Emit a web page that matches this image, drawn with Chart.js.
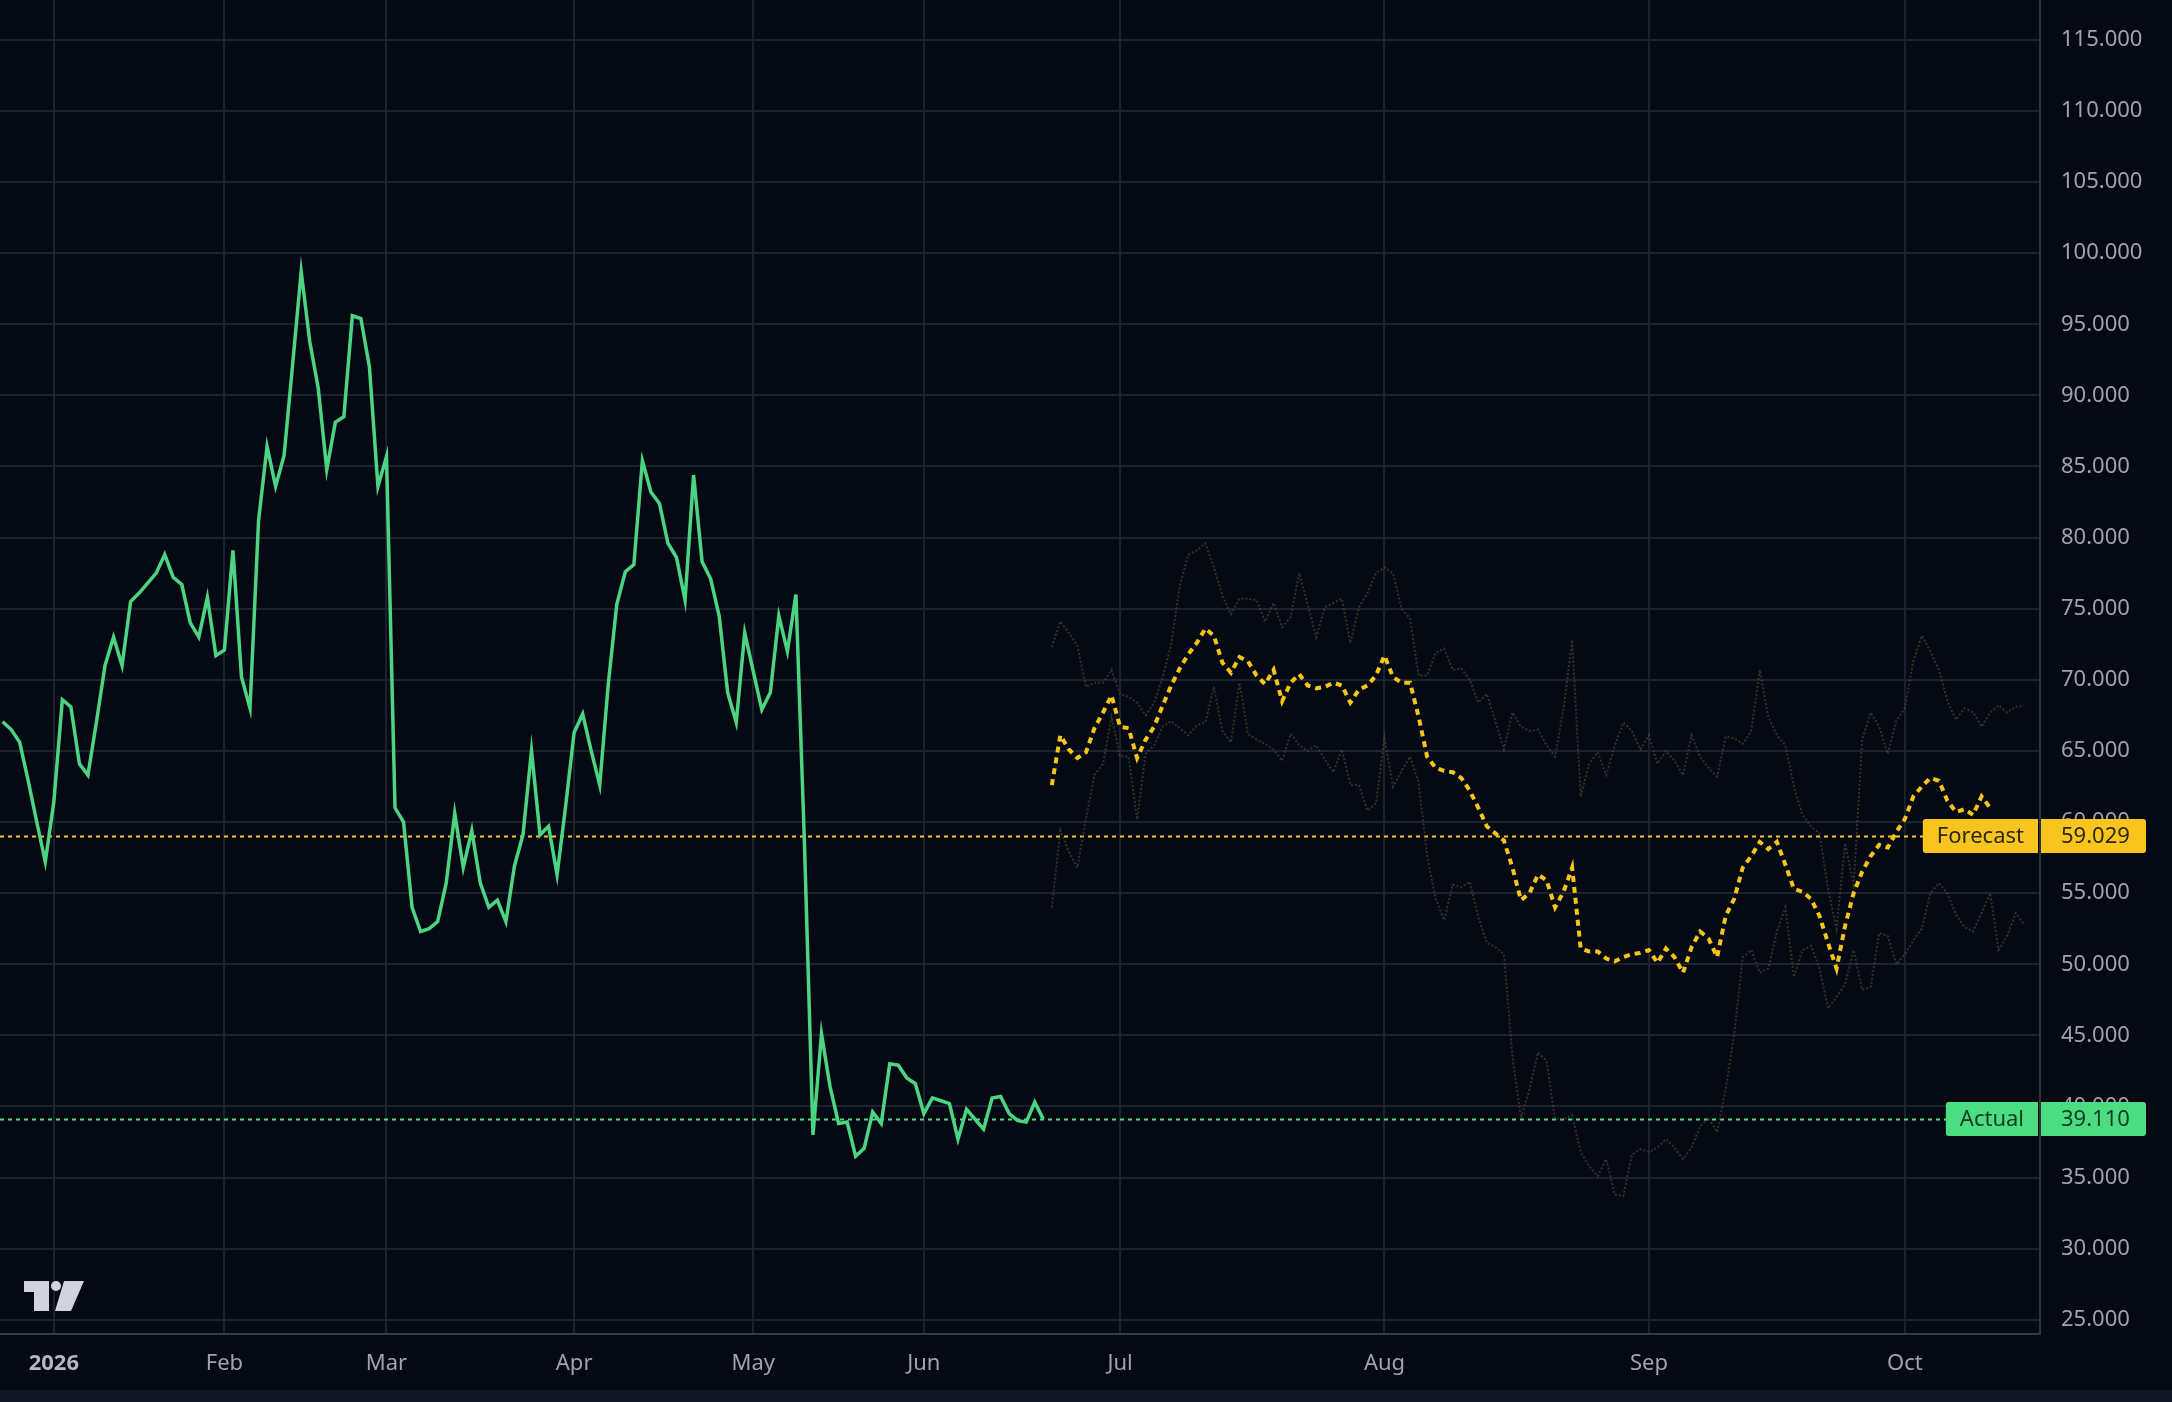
<!DOCTYPE html>
<html lang="en">
<head>
  <meta charset="UTF-8">
  <title>Actual vs Forecast</title>
  <script src="https://cdn.jsdelivr.net/npm/chart.js@4.4.1/dist/chart.umd.min.js"></script>
  <style>
    html, body { margin: 0; padding: 0; background: #050914; overflow: hidden; }
    #wrap { width: 2172px; height: 1402px; position: relative; }
  </style>
</head>
<body>
  <div id="wrap"><canvas id="myChart"></canvas></div>
  <script>
    // x positions are session indexes, Jan 1 2026 = 0
    const actualStart = -6;
    const actualValues = [
      67.05, 66.5, 65.6, 62.9, 60.0, 57.2,
      61.4, 68.6, 68.1, 64.1, 63.3, 67.05, 71.0, 73.0, 71.0, 75.5,
      76.1, 76.8, 77.5, 78.8, 77.2, 76.7, 74.0, 73.0, 75.8, 71.7,
      72.1, 79.1, 70.2, 68.0, 81.2, 86.4, 83.6, 85.8, 92.2, 98.7,
      93.8, 90.5, 84.8, 88.1, 88.5, 95.6, 95.4, 92.0, 83.6, 85.7,
      61.0, 60.0, 54.0, 52.3, 52.5, 53.0, 55.7, 60.6, 56.8, 59.4,
      55.7, 54.0, 54.5, 53.0, 56.9, 59.1, 65.0, 59.1, 59.7, 56.3,
      61.1, 66.3, 67.6, 65.0, 62.6, 69.7, 75.3, 77.6, 78.1, 85.4,
      83.2, 82.4, 79.6, 78.6, 75.6, 84.4, 78.3, 77.1, 74.5, 69.1,
      67.0, 73.3, 70.6, 67.9, 69.1, 74.5, 72.0, 76.0, 58.5, 38.0,
      45.1, 41.4, 38.8, 38.9, 36.5, 37.05, 39.6, 38.8, 43.0, 42.9,
      42.0, 41.6, 39.5, 40.6, 40.4, 40.2, 37.7, 39.8, 39.1, 38.4,
      40.6, 40.7, 39.5, 39.0, 38.9, 40.3, 39.11
    ];

    // forecast runs daily from Jun 23
    const forecastStart = 117;
    const forecastValues = [
      62.6, 66.1, 65.1, 64.5, 64.9, 66.6, 67.7, 68.9, 66.7, 66.6,
      64.5, 65.8, 66.7, 68.2, 69.6, 70.8, 71.8, 72.6, 73.6, 73.1,
      71.2, 70.5, 71.6, 71.3, 70.3, 69.7, 70.7, 68.5, 69.8, 70.4,
      69.6, 69.4, 69.5, 69.8, 69.6, 68.4, 69.3, 69.6, 70.3, 71.7,
      70.2, 69.8, 69.8, 67.4, 64.6, 63.8, 63.6, 63.5, 63.1, 62.2,
      61.0, 59.7, 59.2, 58.7, 56.8, 54.5, 55.0, 56.3, 55.9, 54.0,
      55.1, 56.8, 51.1, 50.9, 50.9, 50.4, 50.2, 50.5, 50.7, 50.8,
      51.0, 50.1, 51.1, 50.5, 49.4, 51.2, 52.3, 51.8, 50.5, 53.4,
      54.6, 56.8, 57.6, 58.6, 58.1, 58.6, 57.0, 55.3, 55.1, 54.6,
      53.4, 51.5, 49.7, 52.7, 55.0, 56.5, 57.6, 58.4, 58.2, 59.3,
      60.2, 61.8, 62.5, 63.1, 62.9, 61.5, 60.7, 60.9, 60.5, 61.8,
      61.0
    ];

    // faint alternative paths behind the forecast
    const upperValues = [
      72.3, 74.1, 73.3, 72.4, 69.5, 69.8, 69.8, 70.7, 69.0, 68.8,
      68.4, 67.5, 68.4, 70.2, 72.5, 76.6, 78.8, 79.1, 79.6, 77.9,
      75.9, 74.6, 75.7, 75.7, 75.6, 74.1, 75.4, 73.7, 74.4, 77.5,
      75.3, 73.0, 75.1, 75.4, 75.7, 72.6, 75.1, 76.1, 77.5, 77.9,
      77.5, 75.0, 74.3, 70.3, 70.3, 71.9, 72.2, 70.7, 70.8, 70.0,
      68.4, 69.0, 67.1, 65.1, 67.7, 66.7, 66.4, 66.5, 65.4, 64.6,
      68.0, 72.8, 61.8, 64.1, 64.9, 63.3, 65.4, 67.0, 66.4, 65.1,
      66.1, 64.1, 65.0, 64.3, 63.3, 66.1, 64.6, 63.8, 63.2, 66.0,
      65.9, 65.5, 66.4, 70.7, 67.4, 66.1, 65.4, 62.5, 60.5, 59.7,
      59.2, 55.3, 52.5, 58.5, 55.6, 65.8, 67.7, 66.7, 64.8, 67.1,
      68.0, 71.3, 73.1, 72.0, 70.7, 68.5, 67.2, 68.0, 67.7, 66.7,
      67.7, 68.2, 67.7, 68.1, 68.2
    ];
    const lowerValues = [
      54.0, 59.4, 57.9, 56.8, 60.2, 63.3, 64.1, 67.4, 64.6, 64.6,
      60.2, 64.8, 65.4, 66.7, 67.1, 66.6, 66.1, 66.8, 67.0, 69.5,
      66.4, 65.6, 69.8, 66.2, 65.8, 65.5, 65.1, 64.3, 66.2, 65.4,
      65.0, 65.4, 64.4, 63.5, 65.1, 62.6, 62.6, 60.8, 61.3, 65.9,
      62.5, 63.6, 64.6, 62.8, 57.6, 54.6, 53.1, 55.6, 55.4, 55.8,
      53.3, 51.5, 51.2, 50.7, 43.5, 39.2, 41.2, 43.8, 43.2, 39.1,
      39.1, 39.4, 36.8, 35.8, 35.1, 36.3, 33.8, 33.7, 36.6, 37.0,
      36.8, 37.1, 37.7, 37.1, 36.3, 37.1, 38.6, 39.2, 38.2, 41.2,
      45.1, 50.5, 51.0, 49.4, 49.7, 52.3, 54.0, 49.1, 51.0, 51.3,
      49.7, 46.9, 47.7, 48.6, 51.0, 48.2, 48.4, 52.2, 52.0, 50.0,
      50.7, 51.7, 52.5, 55.0, 55.7, 55.0, 53.5, 52.6, 52.3, 53.6,
      55.0, 51.0, 52.0, 53.6, 52.8
    ];

    const monthTicks = [0, 20, 39, 61, 82, 102, 125, 156, 187, 217];
    const monthLabels = ['2026', 'Feb', 'Mar', 'Apr', 'May', 'Jun', 'Jul', 'Aug', 'Sep', 'Oct'];
    const priceTicks = [25, 30, 35, 40, 45, 50, 55, 60, 65, 70, 75, 80, 85, 90, 95, 100, 105, 110, 115];

    const forecastLast = 59.029;
    const actualLast = 39.110;

    const toPoints = (start, arr) => arr.map((v, i) => ({ x: start + i, y: v }));

    Chart.defaults.font.family = '"Noto Sans", sans-serif';

    // background, bottom strip and the small logo
    const backdrop = {
      id: 'backdrop',
      beforeDraw(chart) {
        const ctx = chart.ctx;
        ctx.save();
        ctx.fillStyle = '#050914';
        ctx.fillRect(0, 0, chart.width, chart.height);
        ctx.fillStyle = '#121724';
        ctx.fillRect(0, 1390, chart.width, chart.height - 1390);
        ctx.restore();
      },
      afterDraw(chart) {
        const ctx = chart.ctx;
        ctx.save();
        ctx.fillStyle = '#d1d4dc';
        ctx.fillRect(24, 1281, 25, 11);
        ctx.fillRect(34, 1281, 15, 30);
        ctx.beginPath();
        ctx.arc(56, 1286, 5, 0, Math.PI * 2);
        ctx.fill();
        ctx.beginPath();
        ctx.moveTo(64, 1281);
        ctx.lineTo(84, 1281);
        ctx.lineTo(71, 1311);
        ctx.lineTo(55, 1311);
        ctx.closePath();
        ctx.fill();
        ctx.restore();
      }
    };

    const tags = [
      { name: 'Forecast', value: forecastLast, color: '#f7c51e', text: '#2e2810' },
      { name: 'Actual', value: actualLast, color: '#4ade80', text: '#173a24' }
    ];

    // dotted last-value lines and their tags on the price scale
    const priceTags = {
      id: 'priceTags',
      beforeDatasetsDraw(chart) {
        const { ctx, chartArea, scales: { y } } = chart;
        ctx.save();
        ctx.lineWidth = 2;
        ctx.setLineDash([4, 4]);
        tags.forEach(t => {
          const py = Math.round(y.getPixelForValue(t.value)) + 0.5;
          ctx.strokeStyle = t.color;
          ctx.beginPath();
          ctx.moveTo(chartArea.left, py);
          ctx.lineTo(chartArea.right, py);
          ctx.stroke();
        });
        ctx.restore();
      },
      afterDraw(chart) {
        const { ctx, chartArea, scales: { y } } = chart;
        ctx.save();
        ctx.font = '22px "Noto Sans"';
        ctx.textBaseline = 'middle';
        tags.forEach(t => {
          const py = Math.round(y.getPixelForValue(t.value));
          const w = ctx.measureText(t.name).width + 28;
          ctx.fillStyle = t.color;
          ctx.beginPath();
          ctx.roundRect(chartArea.right - 2 - w, py - 17, w, 34, [3, 0, 0, 3]);
          ctx.fill();
          ctx.beginPath();
          ctx.roundRect(chartArea.right + 1, py - 17, 105, 34, [0, 3, 3, 0]);
          ctx.fill();
          ctx.fillStyle = t.text;
          ctx.textAlign = 'left';
          ctx.fillText(t.name, chartArea.right - 2 - w + 14, py + 1);
          ctx.fillText(t.value.toFixed(3), chartArea.right + 21, py + 1);
        });
        ctx.restore();
      }
    };

    const ctx = document.getElementById('myChart').getContext('2d');
    const myChart = new Chart(ctx, {
      type: 'line',
      data: {
        datasets: [
          {
            label: 'Forecast',
            data: toPoints(forecastStart, forecastValues),
            borderColor: '#f5c518',
            borderWidth: 4,
            borderDash: [6, 5],
            pointRadius: 0,
            tension: 0
          },
          {
            label: 'Actual',
            data: toPoints(actualStart, actualValues),
            borderColor: '#4cd483',
            borderWidth: 3.5,
            pointRadius: 0,
            tension: 0
          },
          {
            label: 'Upper',
            data: toPoints(forecastStart, upperValues),
            borderColor: 'rgba(88, 84, 56, 0.55)',
            borderWidth: 2,
            borderDash: [2, 2],
            pointRadius: 0,
            tension: 0
          },
          {
            label: 'Lower',
            data: toPoints(forecastStart, lowerValues),
            borderColor: 'rgba(88, 84, 56, 0.55)',
            borderWidth: 2,
            borderDash: [2, 2],
            pointRadius: 0,
            tension: 0
          }
        ]
      },
      options: {
        responsive: true,
        maintainAspectRatio: false,
        devicePixelRatio: 1,
        animation: false,
        layout: { padding: 0 },
        plugins: {
          legend: { display: false },
          tooltip: { enabled: false }
        },
        scales: {
          x: {
            type: 'linear',
            min: -6.31,
            max: 232.85,
            afterBuildTicks: scale => { scale.ticks = monthTicks.map(v => ({ value: v })); },
            afterFit: scale => {
              scale.height = 68;
              scale.paddingLeft = 0;
              scale.paddingRight = 0;
            },
            grid: { color: '#1c2130', lineWidth: 2, drawTicks: false },
            border: { display: true, color: '#363b47', width: 2 },
            ticks: {
              autoSkip: false,
              maxRotation: 0,
              padding: 17,
              color: ctx => ctx.index === 0 ? '#b4b7bf' : '#a0a3ab',
              font: ctx => ({ size: 22, weight: ctx.index === 0 ? 'bold' : 'normal' }),
              callback: value => monthLabels[monthTicks.indexOf(value)]
            }
          },
          y: {
            position: 'right',
            min: 24.0,
            max: 117.8,
            afterBuildTicks: scale => { scale.ticks = priceTicks.map(v => ({ value: v })); },
            afterFit: scale => {
              scale.width = 132;
              scale.paddingTop = 0;
              scale.paddingBottom = 0;
            },
            grid: { color: '#1c2130', lineWidth: 2, drawTicks: false },
            border: { display: true, color: '#2c313d', width: 2 },
            ticks: {
              padding: 21,
              color: '#a0a3ab',
              font: { size: 22 },
              callback: value => value.toFixed(3)
            }
          }
        }
      },
      plugins: [backdrop, priceTags]
    });
  </script>
</body>
</html>
